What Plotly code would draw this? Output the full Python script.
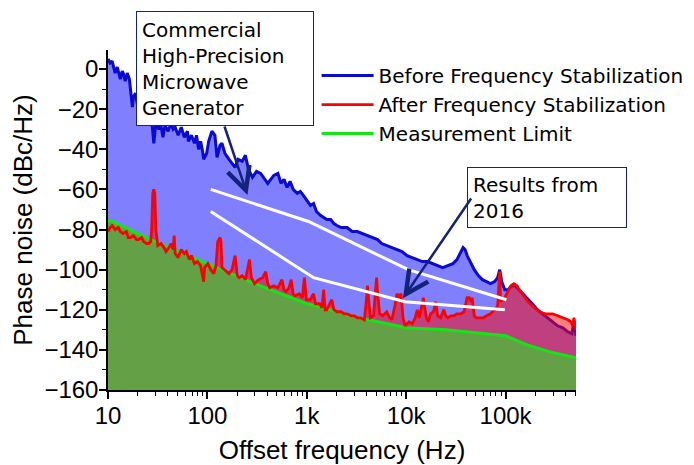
import numpy as np
import plotly.graph_objects as go

# ---------------- data ----------------
before_f = [10, 10.5, 11, 11.5, 11.8, 12.4, 13, 13.3, 13.9, 14.2, 14.9, 15.6, 16.4, 16.8, 17.6, 18,
            18.9, 19.8, 20.8, 21.8, 22.8, 23.9, 25.1, 26.3, 27.5, 28.9, 30.3, 32.5, 34.1, 35.7, 37.4,
            40.2, 43.1, 45.2, 47.4, 50.8, 54.6, 58.6, 62.9, 64.4, 69.1, 74.1, 77.7, 81.5, 85.4, 89.5,
            91.7, 98.4, 103, 111, 119, 125, 134, 140, 150, 165, 177, 190, 204, 224, 241, 259, 284,
            312, 343, 377, 405, 434, 466, 512, 550, 590, 633, 679, 729, 801, 860, 923, 991, 1090,
            1170, 1250, 1380, 1480, 1590, 1740, 1870, 2010, 2210, 2540, 2860, 3220, 3620, 4070,
            4580, 5160, 5670, 6380, 7170, 8070, 9080, 10200, 11490, 12930, 14550, 16370, 18410,
            20720, 23310, 26220, 29500, 32410, 34790, 37340, 39140, 41030, 44030, 48380, 53170,
            58430, 64210, 70550, 77530, 83220, 87210, 91440, 98130, 105300, 115700, 124200,
            136500, 150000, 164800, 185400, 208600, 234700, 264100, 297200, 334200, 376100,
            423100, 464900, 487300, 510900]
before_db = [5, 3, 4, -1, -2, 1, -3, -5, -1, -2, -6, -2, -5, -9, -19, -14,
             -12, -18, -15, -22, -19, -24, -21, -27, -25, -37, -27, -30, -28, -34, -28,
             -31, -27, -30, -29, -33, -29, -34, -31, -36, -33, -37, -33, -40, -36, -41,
             -45, -42, -36, -31, -33, -44, -38, -37, -42, -45, -47, -49, -45, -46, -43, -50, -54,
             -51, -52, -55, -57, -55, -53, -52, -57, -55, -59, -56, -60, -62, -61, -63, -65, -68,
             -67, -71, -73, -74, -75, -75, -77, -78, -79, -79, -81, -81, -82, -83,
             -84, -85, -87, -88, -89, -90, -91, -93, -94, -95, -96, -96, -97,
             -98, -99, -98, -97, -95, -92, -89, -90, -93, -96, -100, -103,
             -105, -106, -107, -106, -104, -100, -106, -110, -110, -108, -108,
             -110, -112, -114, -117, -120, -122, -124, -126, -128, -129,
             -131, -132, -126, -133]

after_f = [10, 10.5, 11, 11.8, 12.7, 13.3, 14.2, 15.3, 16, 16.8, 18, 19.4, 20.3, 21.8, 22.8, 24.5,
           25.7, 26.9, 27.5, 28.2, 28.9, 29.6, 30.3, 31.7, 34.1, 36.6, 38.3, 41.1, 43.1, 45.2,
           46.3, 47.4, 50.8, 54.6, 58.6, 61.4, 65.9, 69.1, 74.1, 79.5, 85.4, 91.7, 93.8, 101,
           108, 116, 122, 127, 134, 137, 140, 154, 165, 177, 190, 200, 209, 224, 241, 265, 277,
           298, 327, 360, 386, 405, 424, 466, 512, 563, 590, 618, 664, 696, 729, 764, 840, 902,
           945, 991, 1088, 1168, 1225, 1346, 1420, 1479, 1530, 1587, 1703, 1785, 1872, 2009,
           2208, 2370, 2543, 2794, 2999, 3219, 3454, 3796, 3978, 4074, 4171, 4372, 4692, 4918,
           5037, 5155, 5406, 5801, 6375, 6842, 7172, 7697, 8068, 8457, 8865, 9294, 9741, 10710,
           11490, 12330, 12930, 13550, 14540, 14890, 15250, 15980, 16750, 17560, 18850, 19760,
           20710, 22230, 23860, 25000, 26210, 28130, 30190, 32400, 35600, 38210, 41010, 42990,
           45070, 46140, 48380, 50700, 55720, 59800, 64180, 70530, 77500, 83180, 87200, 89240,
           93580, 98100, 105300, 113000, 121300, 130200, 136500, 146500, 157200, 168700,
           185400, 203700, 218600, 251800, 297000, 334200, 376000, 423000, 453900, 475800,
           487300, 510900]
after_db = [-81, -79, -78, -80, -79, -81, -82, -81, -84, -84, -83, -85, -85, -84, -86, -87,
            -87, -86, -80, -62, -60, -62, -80, -88, -87, -89, -91, -89, -87, -90,
            -83, -92, -94, -90, -92, -91, -95, -93, -97, -96, -98, -106, -99, -97,
            -100, -102, -98, -86, -84, -86, -99, -101, -102, -100, -93, -103, -104, -103, -105, -95, -104,
            -107, -105, -104, -101, -107, -109, -108, -109, -105, -110, -111, -109, -105, -112, -113, -112, -114,
            -104, -115, -115, -112, -117, -117, -119, -110, -120, -120, -117, -115, -120, -121,
            -121, -122, -122, -123, -123, -124, -124, -125, -115, -108, -114, -124, -123, -110,
            -104, -112, -122, -123, -121, -124, -125, -118, -112, -114, -112, -124, -128, -126,
            -127, -124, -120, -124, -115, -114, -118, -124, -126, -122, -121, -116,
            -123, -124, -120, -123, -124, -123, -123, -122, -122, -121, -114, -114,
            -116, -114, -123, -124, -124, -124, -123, -122, -120, -118, -101, -116,
            -115, -114, -111, -108, -107, -108, -110, -112, -114, -116,
            -118, -120, -121, -122, -122, -123, -124, -125, -126, -128,
            -124, -130]

limit_f = [10, 30, 100, 300, 1000, 1480, 3000, 4200, 10000, 25000, 50000, 100000, 165000, 280000, 510900]
limit_db = [-75, -86, -97, -107, -117, -119, -123.5, -125, -129, -130, -131.5, -133, -137.5, -141, -144]

# white guide lines
upper_f = [108, 1040, 10500, 102000]
upper_db = [-60, -76, -100, -115]
lower_f = [108, 1170, 9740, 98100]
lower_db = [-71, -104, -116, -120]

x_tickvals = [10, 100, 1000, 10000, 100000]
x_ticktext = ["10", "100", "1k", "10k", "100k"]
y_tickvals = [-160, -140, -120, -100, -80, -60, -40, -20, 0]

series_names = ["Before Frequency Stabilization", "After Frequency Stabilization", "Measurement Limit"]

# arrow endpoints (frequency, dB)
arrow1_tail = (147, -27.9)
arrow1_tip = (253, -62.8)
arrow2_tail = (46100, -63.8)
arrow2_tip = (9290, -114.2)

Y_BOTTOM = -160

BLUE_FILL = "rgb(128,128,255)"
BLUE_LINE = "rgb(10,10,210)"
RED_LINE = "rgb(255,0,0)"
RED_FILL = "rgba(255,0,0,0.5)"
GREEN_FILL = "rgb(100,160,70)"
GREEN_LINE = "rgb(20,230,20)"
NAVY = "rgb(20,35,120)"

fig = go.Figure()


def base(xs):
    fig.add_trace(go.Scatter(x=xs, y=[Y_BOTTOM] * len(xs), mode="lines",
                             line=dict(width=0, color="rgba(0,0,0,0)"),
                             showlegend=False, hoverinfo="skip"))


base(before_f)
fig.add_trace(go.Scatter(x=before_f, y=before_db, mode="lines", fill="tonexty",
                         fillcolor=BLUE_FILL, line=dict(width=0, color=BLUE_FILL),
                         showlegend=False, hoverinfo="skip"))
fig.add_trace(go.Scatter(x=before_f, y=before_db, mode="lines", name=series_names[0],
                         line=dict(width=3, color=BLUE_LINE), legendrank=1))
base(after_f)
fig.add_trace(go.Scatter(x=after_f, y=after_db, mode="lines", fill="tonexty",
                         fillcolor=RED_FILL, line=dict(width=0, color=RED_FILL),
                         showlegend=False, hoverinfo="skip"))
base(limit_f)
fig.add_trace(go.Scatter(x=limit_f, y=limit_db, mode="lines", fill="tonexty",
                         fillcolor=GREEN_FILL, line=dict(width=0, color=GREEN_FILL),
                         showlegend=False, hoverinfo="skip"))
fig.add_trace(go.Scatter(x=limit_f, y=limit_db, mode="lines", name=series_names[2],
                         line=dict(width=3, color=GREEN_LINE), legendrank=3))
fig.add_trace(go.Scatter(x=after_f, y=after_db, mode="lines", name=series_names[1],
                         line=dict(width=2.8, color=RED_LINE), legendrank=2))

for xs, ys in ((upper_f, upper_db), (lower_f, lower_db)):
    fig.add_trace(go.Scatter(x=xs, y=ys, mode="lines", line=dict(width=3, color="white"),
                             showlegend=False, hoverinfo="skip"))

annotations = [
    dict(xref="paper", yref="paper", x=0.25, y=0.9456, xanchor="center", yanchor="middle",
         text="Commercial<br>High-Precision<br>Microwave<br>Generator", showarrow=False,
         align="left", width=166, height=103, borderpad=5, bordercolor=NAVY, borderwidth=1,
         bgcolor="white", font=dict(family="DejaVu Sans", size=20, color="black")),
    dict(xref="paper", yref="paper", x=0.937, y=0.566, xanchor="center", yanchor="middle",
         text="Results from<br>2016", showarrow=False,
         align="left", width=148, height=49, borderpad=5, bordercolor=NAVY, borderwidth=1,
         bgcolor="white", font=dict(family="DejaVu Sans", size=20, color="black")),
]
for tail, tip in ((arrow1_tail, arrow1_tip), (arrow2_tail, arrow2_tip)):
    annotations.append(dict(xref="x", yref="y", axref="x", ayref="y",
                            x=np.log10(tip[0]), y=tip[1], ax=np.log10(tail[0]), ay=tail[1],
                            text="", showarrow=True, arrowhead=5, arrowsize=1.8,
                            arrowwidth=2.5, arrowcolor=NAVY, standoff=0))

# page body has an 8px margin, so the figure is drawn 8px smaller and offset
fig.update_layout(
    width=686, height=457,
    margin=dict(l=100, r=118, t=42, b=75, autoexpand=False),
    paper_bgcolor="white", plot_bgcolor="white",
    font=dict(family="Liberation Sans, Arial", color="black"),
    showlegend=True,
    legend=dict(x=0.4457, y=0.982, xanchor="left", yanchor="top", bgcolor="white",
                font=dict(family="DejaVu Sans", size=20, color="black"),
                itemwidth=52, tracegroupgap=0, traceorder="normal"),
    annotations=annotations,
    xaxis=dict(type="log", range=[1, np.log10(511000)], automargin=False,
               tickmode="array", tickvals=x_tickvals, ticktext=x_ticktext,
               ticks="outside", ticklen=7, tickwidth=1.5, tickcolor="black",
               ticklabelstandoff=-4,
               minor=dict(ticks="outside", ticklen=4, tickwidth=1, tickcolor="black", dtick="D1"),
               showline=True, linecolor="black", linewidth=1.5, showgrid=False, zeroline=False,
               tickfont=dict(size=24, family="Liberation Sans, Arial"),
               title=dict(text="Offset frequency (Hz)", standoff=16,
                          font=dict(size=26, family="Liberation Sans, Arial"))),
    yaxis=dict(range=[Y_BOTTOM, 9.5], tickmode="array", tickvals=y_tickvals, automargin=False,
               ticks="outside", ticklen=7, tickwidth=1.5, tickcolor="black",
               ticklabelstandoff=-4,
               minor=dict(ticks="outside", ticklen=4, tickwidth=1, tickcolor="black", dtick=10),
               showline=True, linecolor="black", linewidth=1.5, showgrid=False, zeroline=False,
               tickfont=dict(size=24, family="Liberation Sans, Arial"),
               title=dict(text="Phase noise (dBc/Hz)", standoff=6,
                          font=dict(size=26, family="Liberation Sans, Arial"))),
)

fig.write_html("out.html")
